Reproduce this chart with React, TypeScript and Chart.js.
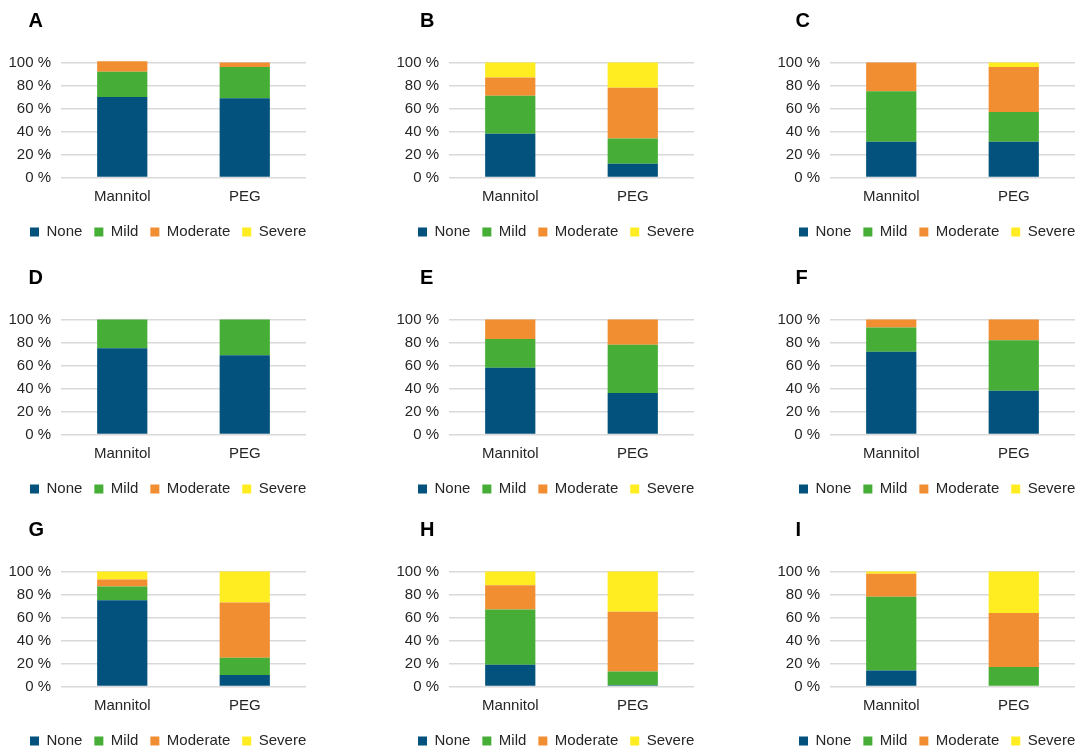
import React, { useEffect, useRef } from 'react';
import { Chart, registerables } from 'chart.js';
Chart.register(...registerables);

// ---- data ----
const panelLetters = ['A', 'B', 'C', 'D', 'E', 'F', 'G', 'H', 'I'];
const categories = ['Mannitol', 'PEG'];
const seriesNames = ['None', 'Mild', 'Moderate', 'Severe'];
const seriesColors = ['#03527D', '#46AD36', '#F28E32', '#FFED21'];
const noneValues = [[70, 69], [38, 12], [31, 31], [75, 69], [58, 36], [72, 38], [75, 10], [19, 1], [14, 0]];
const mildValues = [[22, 27], [33, 22], [44, 26], [25, 31], [25, 42], [21, 44], [12, 15], [48, 12], [64, 17]];
const moderateValues = [[9, 4], [16, 44], [25, 39], [0, 0], [17, 22], [7, 18], [6, 48], [21, 52], [20, 47]];
const severeValues = [[0, 0], [13, 22], [0, 4], [0, 0], [0, 0], [0, 0], [7, 27], [12, 35], [2, 36]];
const yTicks = [0, 20, 40, 60, 80, 100];

// ---- layout ----
const colLeft = [0, 388, 769];
const rowTop = [0, 257, 509];
const letterX = [28.5, 32, 26.5];
const CANVAS_W = 330;
const CANVAS_H = 252;
const PAD_LEFT = 6;
const LEGEND_START = 30;
const LEGEND_PAD = 12;
const FONT = "'Liberation Sans', Arial, sans-serif";
const TEXT = '#262626';

const letterPlugin = {
  id: 'panelLetter',
  afterLayout(chart: any) {
    // move the legend row so that its first box starts at LEGEND_START
    const lg = chart.legend;
    if (lg) {
      const dx = LEGEND_START - (lg.left + LEGEND_PAD);
      lg.left += dx;
      lg.right += dx;
    }
  },
  afterDraw(chart: any, _args: any, opts: any) {
    const ctx = chart.ctx;
    ctx.save();
    ctx.font = `bold 20px ${FONT}`;
    ctx.fillStyle = '#000';
    ctx.textAlign = 'left';
    ctx.textBaseline = 'alphabetic';
    ctx.fillText(opts.text, opts.x, 27);
    ctx.restore();
  },
};

function Panel({ index }: { index: number }) {
  const ref = useRef<HTMLCanvasElement>(null);
  const col = index % 3;
  const row = Math.floor(index / 3);
  useEffect(() => {
    const series = [noneValues, mildValues, moderateValues, severeValues];
    const chart = new Chart(ref.current!, {
      type: 'bar',
      data: {
        labels: categories,
        datasets: seriesNames.map((name, s) => ({
          label: name,
          data: series[s][index],
          backgroundColor: seriesColors[s],
          borderWidth: 0,
          categoryPercentage: 1,
          barPercentage: 0.41,
          clip: false as any,
        })),
      },
      options: {
        responsive: false,
        animation: false,
        devicePixelRatio: 1,
        layout: { padding: { top: 62.5, left: PAD_LEFT, right: 0, bottom: 2.5 } },
        scales: {
          x: {
            stacked: true,
            grid: { display: false },
            border: { display: false },
            ticks: { font: { family: FONT, size: 15 }, color: TEXT, padding: 2 },
            afterFit: (s: any) => { s.height = 35; },
          },
          y: {
            stacked: true,
            min: 0,
            max: 100,
            afterBuildTicks: (s: any) => { s.ticks = yTicks.map((v) => ({ value: v })); },
            grid: { color: '#D9D9D9', lineWidth: 1.5, drawTicks: false },
            border: { display: false },
            ticks: {
              autoSkip: false,
              font: { family: FONT, size: 15 },
              color: TEXT,
              padding: 10,
              callback: (v: any) => `${v} %`,
            },
            afterFit: (s: any) => { s.width = 61 - PAD_LEFT; },
          },
          yRight: {
            type: 'linear',
            position: 'right',
            display: true,
            grid: { display: false, drawTicks: false },
            border: { display: false },
            ticks: { display: false },
            afterFit: (s: any) => { s.width = 24; },
          },
        },
        plugins: {
          legend: {
            position: 'bottom',
            align: 'start',
            labels: {
              boxWidth: 9,
              boxHeight: 9,
              padding: LEGEND_PAD,
              color: TEXT,
              font: { family: FONT, size: 15 },
            },
          },
          tooltip: { enabled: false },
          panelLetter: { text: panelLetters[index], x: letterX[col] },
        } as any,
      },
      plugins: [letterPlugin],
    });
    return () => chart.destroy();
  }, [index]);
  return (
    <canvas
      ref={ref}
      width={CANVAS_W}
      height={CANVAS_H}
      style={{ position: 'absolute', left: colLeft[col], top: rowTop[row], width: CANVAS_W, height: CANVAS_H }}
    />
  );
}

export default function App() {
  return (
    <div style={{ position: 'absolute', left: 0, top: 0, width: 1081, height: 750, background: '#fff', overflow: 'hidden' }}>
      {panelLetters.map((_, i) => (
        <Panel key={i} index={i} />
      ))}
    </div>
  );
}
